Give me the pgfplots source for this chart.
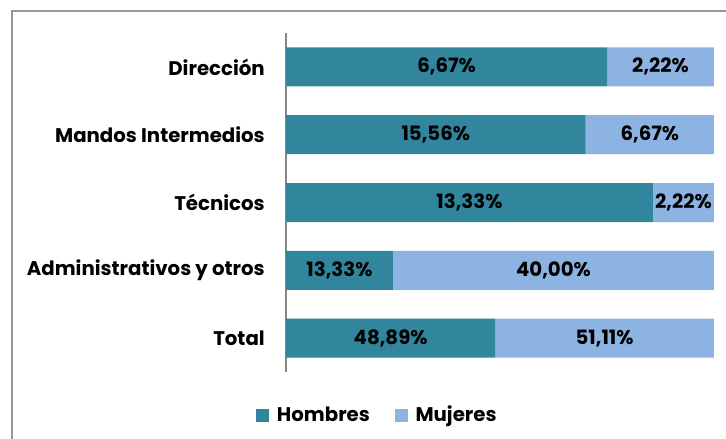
\documentclass[border=0pt]{standalone}
\usepackage{pgfplots}
\pgfplotsset{compat=1.18}
\usepackage{pgfplotstable}
\usepackage{fontspec}
\setmainfont{Poppins}
\definecolor{hom}{RGB}{49,133,156}
\definecolor{muj}{RGB}{141,179,226}
\definecolor{frm}{RGB}{150,150,150}
\definecolor{axl}{RGB}{134,134,134}
\newcommand\lblfont{\bfseries\fontsize{14.8}{17}\selectfont}

% y: category index; h, m: shares of the 100% bar; hl, ml: printed values
\pgfplotstableread{
y h m hl ml
0 75.03 24.97 6,67 2,22
1 70.00 30.00 15,56 6,67
2 85.72 14.28 13,33 2,22
3 25.00 75.00 13,33 40,00
4 48.89 51.11 48,89 51,11
}\data

\begin{document}
\begin{tikzpicture}
\useasboundingbox (0pt,0pt) rectangle (544.5pt,329.25pt);
\begin{scope}
\clip (0pt,0pt) rectangle (544.5pt,329.25pt);
\draw[frm, line width=1pt] (9pt,-22pt) rectangle (570pt,321pt);
\end{scope}
\begin{axis}[
  at={(214.5pt,50.25pt)}, anchor=south west,
  scale only axis, width=321pt, height=254.25pt,
  xbar stacked, bar width=29.25pt,
  xmin=0, xmax=100, ymin=-0.5, ymax=4.5, y dir=reverse,
  ytick={0,1,2,3,4},
  yticklabels={Dirección, Mandos Intermedios, Técnicos, Administrativos y otros, Total},
  axis x line=none, axis y line*=left,
  y axis line style={draw=axl, line width=0.9pt, -},
  ytick style={draw=none},
  yticklabel style={font=\lblfont, inner sep=0pt, anchor=east, xshift=-15.75pt},
  nodes near coords={\pgfplotspointmeta\%},
  point meta=explicit symbolic,
  every node near coord/.append style={font=\lblfont, anchor=center, inner sep=0pt},
  legend style={at={(0.214,-0.127)}, anchor=center, draw=none, fill=none,
    font=\lblfont, legend columns=2,
    /tikz/every odd column/.append style={column sep=4pt},
    /tikz/every even column/.append style={column sep=16.5pt}},
  legend image code/.code={\fill[#1] (0pt,-4.9pt) rectangle (9.75pt,4.9pt);},
]
\addplot[fill=hom, draw=none]
  table[x=h, y=y, meta=hl] {\data};
\addlegendentry{Hombres}
\addplot[fill=muj, draw=none]
  table[x=m, y=y, meta=ml] {\data};
\addlegendentry{Mujeres}
\end{axis}
\end{tikzpicture}
\end{document}
